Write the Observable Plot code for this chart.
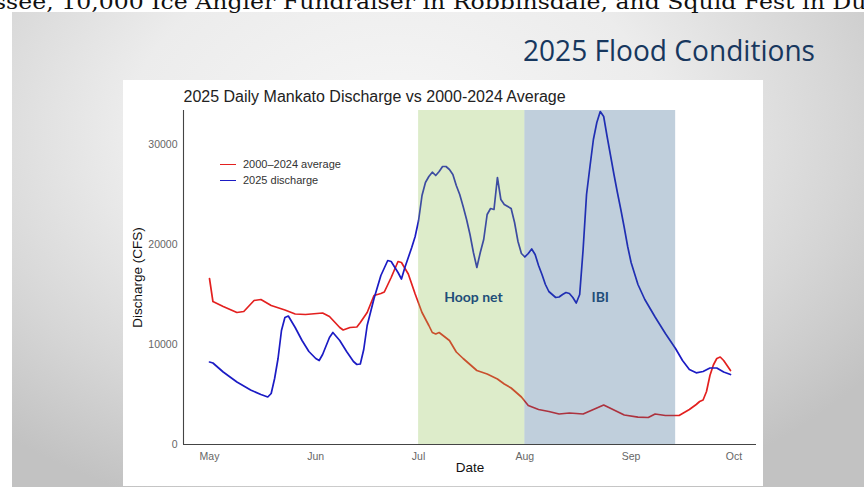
<!DOCTYPE html>
<html><head><meta charset="utf-8">
<script src="https://cdn.jsdelivr.net/npm/d3@7"></script>
<script src="https://cdn.jsdelivr.net/npm/@observablehq/plot@0.6"></script>
<style>
html,body{margin:0;padding:0;width:864px;height:487px;overflow:hidden;background:#fff;}
#slide{position:absolute;left:12px;top:12px;width:852px;height:475px;
  background:radial-gradient(ellipse 70% 85% at 45% 25%, #f6f6f6 0%, #ececec 45%, #d6d6d6 75%, #c2c2c2 100%);}
#deco{position:absolute;left:0;top:0;}
#chart{position:absolute;left:123px;top:80px;width:640px;height:406px;background:#fff;}
#legend{position:absolute;left:97px;top:77px;font-family:"Liberation Sans",Arial,sans-serif;font-size:11px;color:#333;}
.li{position:relative;height:16px;}
.li span.sw{position:absolute;left:0;top:7px;width:16px;height:0;border-top:1.8px solid;}
.li span.tx{position:absolute;left:23px;top:1px;white-space:nowrap;}
</style></head>
<body>
<div id="slide"></div>
<svg id="deco" width="864" height="80">
  <text x="-6" y="9" font-family="DejaVu Serif" font-size="20" fill="#111" textLength="880" lengthAdjust="spacingAndGlyphs">ssee, 10,000 Ice Angler Fundraiser in Robbinsdale, and Squid Fest in Dul</text>
  <text x="523" y="61" font-family="Open Sans" font-size="30" fill="#17375e" textLength="292" lengthAdjust="spacingAndGlyphs">2025 Flood Conditions</text>
</svg>
<div id="chart"></div>
<script>
// ---- data ----
const chartTitle = "2025 Daily Mankato Discharge vs 2000-2024 Average";
const yLabel = "Discharge (CFS)";
const xLabel = "Date";
const seriesNames = ["2000\u20132024 average", "2025 discharge"];

const avgDates = ["2025-05-01","2025-05-02","2025-05-05","2025-05-09","2025-05-11","2025-05-14","2025-05-16","2025-05-19","2025-05-23","2025-05-26","2025-05-29","2025-06-03","2025-06-05","2025-06-08","2025-06-09","2025-06-11","2025-06-13","2025-06-14","2025-06-16","2025-06-18","2025-06-20","2025-06-21","2025-06-23","2025-06-25","2025-06-26","2025-06-28","2025-06-30","2025-07-02","2025-07-04","2025-07-05","2025-07-06","2025-07-07","2025-07-10","2025-07-12","2025-07-14","2025-07-18","2025-07-21","2025-07-24","2025-07-26","2025-07-28","2025-07-31","2025-08-02","2025-08-05","2025-08-08","2025-08-11","2025-08-14","2025-08-18","2025-08-21","2025-08-24","2025-08-27","2025-08-30","2025-09-03","2025-09-06","2025-09-08","2025-09-11","2025-09-15","2025-09-18","2025-09-19","2025-09-20","2025-09-21","2025-09-22","2025-09-23","2025-09-24","2025-09-25","2025-09-26","2025-09-27","2025-09-28","2025-09-29","2025-09-30"];
const avgValues = [16600,14300,13800,13200,13300,14400,14500,13900,13450,13050,13000,13150,12800,11700,11450,11700,11750,12200,13200,14900,15100,15250,16700,18300,18200,17050,15050,13200,11900,11200,11050,11200,10400,9250,8600,7400,7050,6550,6050,5650,4750,3900,3500,3300,3050,3150,3050,3500,3950,3450,2950,2730,2700,3050,2900,2900,3500,3750,4000,4300,4450,5300,6900,7950,8600,8750,8400,7900,7400];

const q25Dates = ["2025-05-01","2025-05-02","2025-05-05","2025-05-09","2025-05-13","2025-05-16","2025-05-18","2025-05-19","2025-05-20","2025-05-21","2025-05-22","2025-05-23","2025-05-24","2025-05-26","2025-05-28","2025-05-30","2025-06-01","2025-06-02","2025-06-03","2025-06-05","2025-06-06","2025-06-08","2025-06-10","2025-06-12","2025-06-13","2025-06-14","2025-06-15","2025-06-16","2025-06-18","2025-06-20","2025-06-22","2025-06-23","2025-06-25","2025-06-26","2025-06-27","2025-06-29","2025-06-30","2025-07-01","2025-07-02","2025-07-03","2025-07-04","2025-07-05","2025-07-06","2025-07-07","2025-07-08","2025-07-09","2025-07-10","2025-07-11","2025-07-12","2025-07-13","2025-07-14","2025-07-15","2025-07-16","2025-07-17","2025-07-18","2025-07-19","2025-07-20","2025-07-21","2025-07-22","2025-07-23","2025-07-24","2025-07-25","2025-07-26","2025-07-28","2025-07-29","2025-07-30","2025-07-31","2025-08-01","2025-08-02","2025-08-03","2025-08-04","2025-08-05","2025-08-06","2025-08-07","2025-08-08","2025-08-09","2025-08-10","2025-08-11","2025-08-12","2025-08-13","2025-08-14","2025-08-15","2025-08-16","2025-08-17","2025-08-18","2025-08-19","2025-08-20","2025-08-21","2025-08-22","2025-08-23","2025-08-24","2025-08-25","2025-08-26","2025-08-27","2025-08-28","2025-08-29","2025-08-30","2025-08-31","2025-09-01","2025-09-02","2025-09-03","2025-09-05","2025-09-08","2025-09-11","2025-09-14","2025-09-16","2025-09-18","2025-09-20","2025-09-22","2025-09-24","2025-09-26","2025-09-28","2025-09-30"];
const q25Values = [8250,8150,7250,6250,5450,5000,4750,5100,6600,8600,11400,12700,12850,11700,10400,9300,8600,8400,9000,10700,11200,10400,9300,8300,8000,8050,9500,11900,14600,16900,18400,18300,17200,16550,17700,19700,20800,22400,24900,26200,26800,27230,26900,27300,27800,27800,27500,27000,25900,25000,23800,22500,21000,19200,17700,19200,20500,23000,23600,23500,26700,24500,24000,23600,22200,20300,19100,18750,19100,19550,19000,17900,17000,16000,15300,15000,14700,14750,15000,15200,15100,14700,14150,15000,19500,25000,27800,30500,32200,33300,32800,30800,28900,27000,25200,23500,21700,19800,18200,17100,16000,14500,12750,11100,9570,8400,7500,7170,7300,7650,7650,7250,7000];

const bandNames = ["Hoop net", "IBI"];
const bandStarts = ["2025-07-01", "2025-08-01"];
const bandEnds = ["2025-08-01", "2025-09-14"];
const bandLabelDates = ["2025-07-17", "2025-08-23"];
const bandLabelValues = [14700, 14700];

const monthTicks = ["2025-05-01","2025-06-01","2025-07-01","2025-08-01","2025-09-01","2025-10-01"];
const yTicks = [0, 10000, 20000, 30000];

// ---- build tables ----
const P = s => new Date(s + "T00:00:00Z");
const avgData = avgDates.map((d,i) => ({date:P(d), value:avgValues[i]}));
const curData = q25Dates.map((d,i) => ({date:P(d), value:q25Values[i]}));
const bands = bandNames.map((n,i) => ({name:n, start:P(bandStarts[i]), end:P(bandEnds[i]),
  ldate:P(bandLabelDates[i]), lval:bandLabelValues[i]}));
const bandFill = {"Hoop net":"#8fbf4f", "IBI":"#2f5f8a"};
const yTop = 33400;
const xDomain = [new Date(Date.UTC(2025,3,23,10)), new Date(Date.UTC(2025,9,7,14))];

const chart = Plot.plot({
  width: 640, height: 406,
  marginLeft: 60, marginRight: 7, marginTop: 30, marginBottom: 42,
  style: {fontFamily: "'Liberation Sans', Arial, sans-serif", background: "transparent", overflow: "visible"},
  x: {type: "utc", domain: xDomain},
  y: {domain: [0, yTop]},
  color: {type: "identity"},
  marks: [
    Plot.line(avgData, {x:"date", y:"value", stroke:"#e3201f", strokeWidth:1.7}),
    Plot.line(curData, {x:"date", y:"value", stroke:"#1b1bc4", strokeWidth:1.7}),
    Plot.rect(bands, {x1:"start", x2:"end", y1:0, y2:yTop, fill: d => bandFill[d.name], fillOpacity:0.3}),
    Plot.text(bands, {x:"ldate", y:"lval", text:"name", fill:"#1f4e79", fontWeight:"bold", fontSize:14, fontFamily:"Lato, 'Open Sans', sans-serif"}),
    Plot.ruleY([0], {stroke:"#444", strokeWidth:1.1}),
    Plot.ruleX([xDomain[0]], {stroke:"#444", strokeWidth:1.1}),
    Plot.axisX({ticks: monthTicks.map(P), tickFormat: "%b", tickSize: 0, tickPadding: 8, fontSize: 10.5, fill: "#666", label: null}),
    Plot.axisY({ticks: yTicks, tickFormat: d => String(d), tickSize: 0, tickPadding: 6, fontSize: 10.5, fill: "#666", label: null}),
    Plot.text([chartTitle], {frameAnchor:"top-left", dy:-14, textAnchor:"start", lineAnchor:"middle", fontSize:16, fill:"#222"}),
    Plot.text([yLabel], {frameAnchor:"left", dx:-46, rotate:-90, textAnchor:"middle", lineAnchor:"middle", fontSize:13.5, fill:"#111"}),
    Plot.text([xLabel], {frameAnchor:"bottom", dy:27, textAnchor:"middle", fontSize:13.5, fill:"#111"})
  ]
});
const host = document.getElementById("chart");
host.appendChild(chart);

const lg = document.createElement("div");
lg.id = "legend";
const swColors = ["#e3201f", "#1b1bc4"];
seriesNames.forEach((n,i) => {
  const row = document.createElement("div");
  row.className = "li";
  const sw = document.createElement("span"); sw.className = "sw"; sw.style.borderTopColor = swColors[i];
  const tx = document.createElement("span"); tx.className = "tx"; tx.textContent = n;
  row.appendChild(sw); row.appendChild(tx); lg.appendChild(row);
});
host.appendChild(lg);
</script>
</body></html>
